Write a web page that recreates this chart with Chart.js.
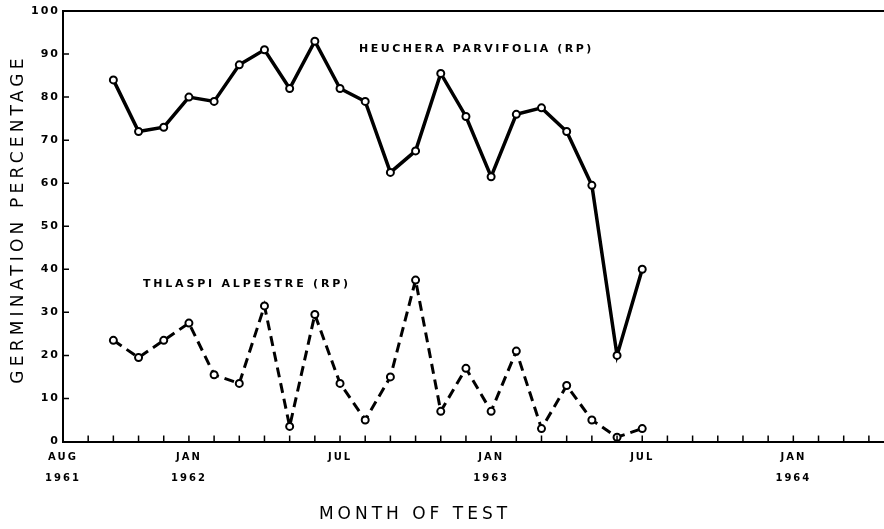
<!DOCTYPE html>
<html>
<head>
<meta charset="utf-8">
<script src="https://cdn.jsdelivr.net/npm/chart.js@4.4.1/dist/chart.umd.min.js"></script>
<style>
  body { margin: 0; background: #fff; }
  #wrap { width: 884px; height: 529px; }
</style>
</head>
<body>
<div id="wrap"><canvas id="germChart"></canvas></div>
<script>
// months of test (one point per month)
const testMonths = [
  "OCT 1961", "NOV 1961", "DEC 1961",
  "JAN 1962", "FEB 1962", "MAR 1962", "APR 1962", "MAY 1962", "JUN 1962",
  "JUL 1962", "AUG 1962", "SEP 1962", "OCT 1962", "NOV 1962", "DEC 1962",
  "JAN 1963", "FEB 1963", "MAR 1963", "APR 1963", "MAY 1963", "JUN 1963", "JUL 1963"
];
const heucheraValues = [84, 72, 73, 80, 79, 87.5, 91, 82, 93, 82, 79, 62.5, 67.5, 85.5, 75.5, 61.5, 76, 77.5, 72, 59.5, 20, 40];
const thlaspiValues = [23.5, 19.5, 23.5, 27.5, 15.5, 13.5, 31.5, 3.5, 29.5, 13.5, 5, 15, 37.5, 7, 17, 7, 21, 3, 13, 5, 1, 3];

// labelled ticks on the month axis
const tickMonths = ["AUG 1961", "JAN 1962", "JUL 1962", "JAN 1963", "JUL 1963", "JAN 1964"];
const tickLabels = [["AUG", "1961"], ["JAN", "1962"], ["JUL"], ["JAN", "1963"], ["JUL"], ["JAN", "1964"]];
const yTicks = [0, 10, 20, 30, 40, 50, 60, 70, 80, 90, 100];

const MONTHS = ["JAN", "FEB", "MAR", "APR", "MAY", "JUN", "JUL", "AUG", "SEP", "OCT", "NOV", "DEC"];
// months counted from Aug 1961
function monthIndex(s) {
  const parts = s.split(" ");
  return (Number(parts[1]) - 1961) * 12 + MONTHS.indexOf(parts[0]) - 7;
}

const tickPos = tickMonths.map(monthIndex);
const X_MAX = 32.6;
const FONT = "'DejaVu Sans', sans-serif";

const decorations = {
  id: "decorations",
  beforeUpdate(chart) { chart.ctx.letterSpacing = "2px"; },
  beforeDraw(chart) { chart.ctx.letterSpacing = "2px"; },
  afterDraw(chart) {
    const ctx = chart.ctx;
    const area = chart.chartArea;
    const xs = chart.scales.x;
    const ys = chart.scales.y;
    ctx.save();
    ctx.strokeStyle = "#000";
    ctx.lineWidth = 2;
    // top frame line
    ctx.beginPath();
    ctx.moveTo(area.left, area.top);
    ctx.lineTo(area.right, area.top);
    ctx.stroke();
    // inward tick marks
    ctx.lineWidth = 1.5;
    ctx.beginPath();
    for (let m = 1; m < X_MAX; m++) {
      const px = xs.getPixelForValue(m);
      ctx.moveTo(px, area.bottom);
      ctx.lineTo(px, area.bottom - 6);
    }
    yTicks.forEach(v => {
      if (v === 0 || v === 100) return;
      const py = ys.getPixelForValue(v);
      ctx.moveTo(area.left, py);
      ctx.lineTo(area.left + 6, py);
    });
    ctx.stroke();

    ctx.fillStyle = "#000";
    ctx.textBaseline = "middle";
    // series labels
    ctx.font = "bold 11px " + FONT;
    ctx.letterSpacing = "2.5px";
    ctx.textAlign = "left";
    ctx.fillText("HEUCHERA PARVIFOLIA (RP)", 359, 49);
    ctx.letterSpacing = "2.8px";
    ctx.fillText("THLASPI ALPESTRE (RP)", 143, 284);

    // axis titles
    ctx.font = "17px " + FONT;
    ctx.letterSpacing = "4px";
    ctx.textAlign = "center";
    ctx.fillText("MONTH OF TEST", 415, 515);
    ctx.letterSpacing = "4.2px";
    ctx.translate(19, 219);
    ctx.rotate(-Math.PI / 2);
    ctx.fillText("GERMINATION PERCENTAGE", 0, 0);
    ctx.restore();
  }
};

const ctx = document.getElementById("germChart").getContext("2d");
const germChart = new Chart(ctx, {
  type: "line",
  data: {
    datasets: [
      {
        label: "HEUCHERA PARVIFOLIA (RP)",
        data: testMonths.map((m, i) => ({ x: monthIndex(m), y: heucheraValues[i] })),
        borderColor: "#000",
        borderWidth: 3.5,
        pointRadius: 3.5,
        pointBorderWidth: 2,
        pointBackgroundColor: "#fff",
        pointBorderColor: "#000",
        tension: 0
      },
      {
        label: "THLASPI ALPESTRE (RP)",
        data: testMonths.map((m, i) => ({ x: monthIndex(m), y: thlaspiValues[i] })),
        borderColor: "#000",
        borderWidth: 3,
        borderDash: [10, 6],
        pointRadius: 3.5,
        pointBorderWidth: 2,
        pointBackgroundColor: "#fff",
        pointBorderColor: "#000",
        tension: 0
      }
    ]
  },
  options: {
    responsive: true,
    maintainAspectRatio: false,
    animation: false,
    layout: { autoPadding: false, padding: { top: 11, right: 0, left: 0, bottom: 0 } },
    plugins: {
      legend: { display: false },
      tooltip: { enabled: false }
    },
    scales: {
      x: {
        type: "linear",
        min: 0,
        max: X_MAX,
        afterBuildTicks: scale => { scale.ticks = tickPos.map(v => ({ value: v })); },
        afterFit: scale => { scale.height = 87.5; },
        grid: { display: false, drawTicks: false },
        border: { display: true, color: "#000", width: 2 },
        ticks: {
          autoSkip: false,
          maxRotation: 0,
          padding: 5,
          color: "#000",
          font: { family: FONT, weight: "bold", size: 10, lineHeight: 2.1 },
          callback: function (value) {
            const i = tickPos.indexOf(value);
            return i >= 0 ? tickLabels[i] : "";
          }
        }
      },
      y: {
        min: 0,
        max: 100,
        afterBuildTicks: scale => { scale.ticks = yTicks.map(v => ({ value: v })); },
        afterFit: scale => { scale.width = 63; },
        grid: { display: false, drawTicks: false },
        border: { display: true, color: "#000", width: 2 },
        ticks: {
          padding: 3,
          color: "#000",
          font: { family: FONT, weight: "bold", size: 11 }
        }
      }
    }
  },
  plugins: [decorations]
});
</script>
</body>
</html>
